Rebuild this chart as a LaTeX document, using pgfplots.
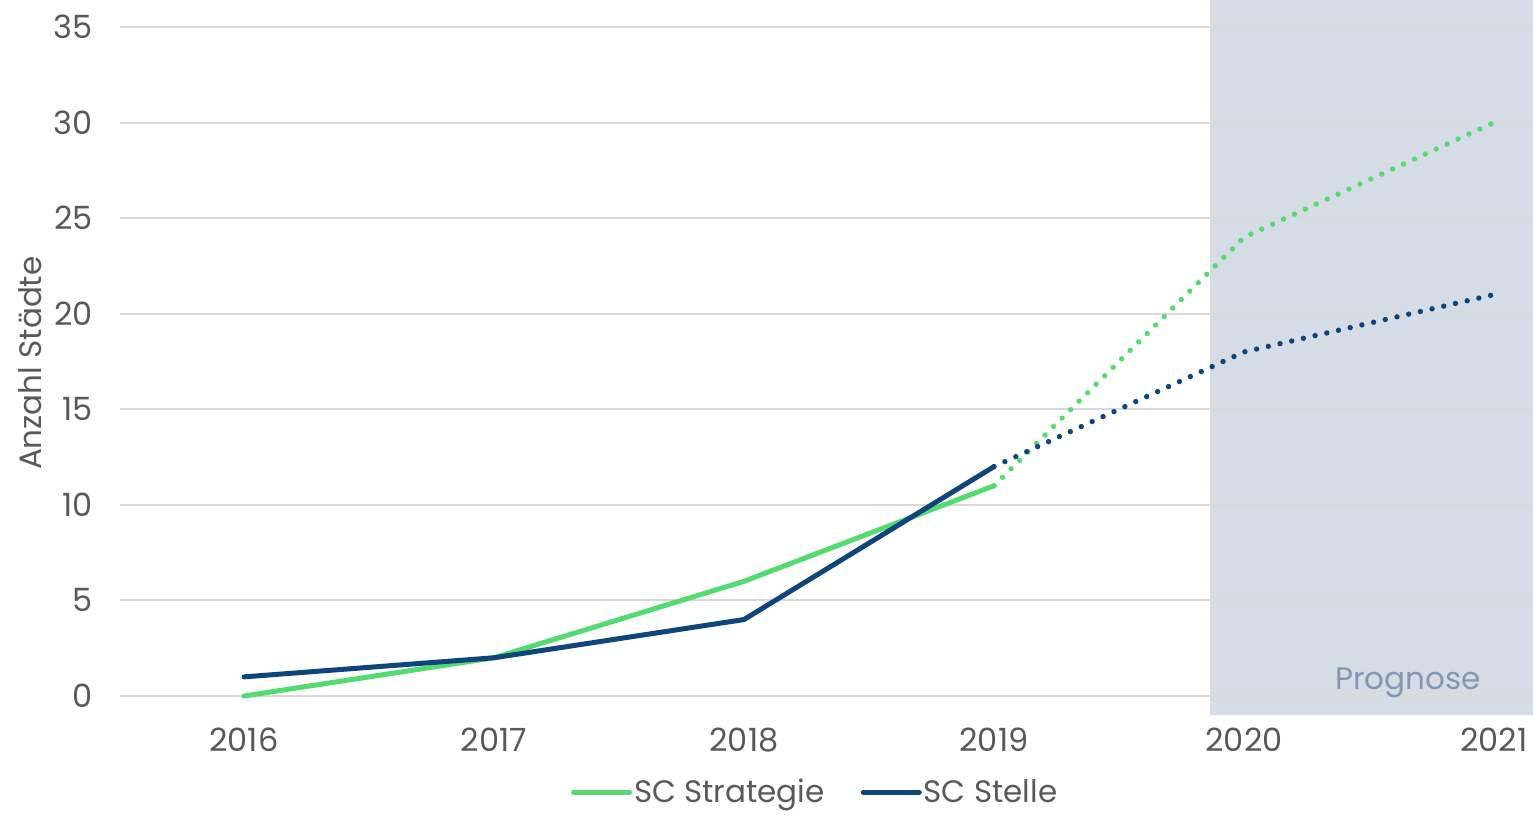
\documentclass[border=0pt]{standalone}
\usepackage{pgfplots}
\pgfplotsset{compat=1.18}
\usepackage{fontspec}
\setmainfont{Poppins}
\definecolor{cgreen}{RGB}{84,219,112}
\definecolor{cblue}{RGB}{14,69,122}
\definecolor{cgrid}{RGB}{217,217,217}
\definecolor{ctext}{RGB}{89,89,89}
\definecolor{cshade}{HTML}{D6DCE5}
\definecolor{cprog}{HTML}{8497B0}
\begin{document}
\begin{tikzpicture}
\path[use as bounding box] (-60pt,-50pt) rectangle (706.5pt,357.5pt);
\begin{axis}[
  scale only axis,
  width=706.5pt, height=357.5pt,
  xmin=2015.504, xmax=2021.156,
  ymin=-0.994, ymax=36.413,
  xtick={2016,2017,2018,2019,2020,2021},
  xticklabels={2016,2017,2018,2019,2020,2021},
  ytick={0,5,...,35},
  axis line style={draw=none},
  major tick length=0pt,
  /pgf/number format/assume math mode=true,
  tick label style={font=\fontsize{16}{19}\selectfont, text=ctext},
  yticklabel style={xshift=-10pt},
  xticklabel style={yshift=-3pt},
  ylabel={Anzahl Städte},
  ylabel style={font=\fontsize{15.5}{19}\selectfont, text=ctext, at={(axis description cs:-0.0637,0.492)}, anchor=center},
  legend style={at={(0.492,-0.108)}, anchor=center, draw=none, fill=none,
    font=\fontsize{15.5}{19}\selectfont, text=ctext,
    legend columns=2, /tikz/every even column/.append style={column sep=17pt},
    nodes={inner sep=1pt},
    inner sep=0pt},
  legend cell align=left,
  legend image code/.code={\draw[#1, line cap=round] (0pt,0pt) -- (28pt,0pt);},
]
\addplot[fill=cshade, draw=none, forget plot] coordinates {(2019.864,-0.994) (2021.156,-0.994) (2021.156,36.413) (2019.864,36.413) (2019.864,-0.994)};
\addplot[cgrid, line width=1pt, forget plot] coordinates {(2015.504,0) (2021.156,0)};
\addplot[cgrid, line width=1pt, forget plot] coordinates {(2015.504,5) (2021.156,5)};
\addplot[cgrid, line width=1pt, forget plot] coordinates {(2015.504,10) (2021.156,10)};
\addplot[cgrid, line width=1pt, forget plot] coordinates {(2015.504,15) (2021.156,15)};
\addplot[cgrid, line width=1pt, forget plot] coordinates {(2015.504,20) (2021.156,20)};
\addplot[cgrid, line width=1pt, forget plot] coordinates {(2015.504,25) (2021.156,25)};
\addplot[cgrid, line width=1pt, forget plot] coordinates {(2015.504,30) (2021.156,30)};
\addplot[cgrid, line width=1pt, forget plot] coordinates {(2015.504,35) (2021.156,35)};
\addplot[cgreen, line width=2.5pt, line cap=round] coordinates {(2016,0) (2017,2) (2018,6) (2019,11)};
\addlegendentry{SC Strategie}
\addplot[cblue, line width=2.5pt, line cap=round] coordinates {(2016,1) (2017,2) (2018,4) (2019,12)};
\addlegendentry{SC Stelle}
\addplot[cgreen, line width=2.7pt, line cap=round, dash pattern=on 0pt off 6pt, forget plot] coordinates {(2019,11) (2020,24) (2021,30)};
\addplot[cblue, line width=2.7pt, line cap=round, dash pattern=on 0pt off 6pt, forget plot] coordinates {(2019,12) (2020,18) (2021,21)};
\node[text=cprog, font=\fontsize{15.5}{19}\selectfont] at (axis cs:2020.656,0.68) {Prognose};
\end{axis}
\end{tikzpicture}
\end{document}
